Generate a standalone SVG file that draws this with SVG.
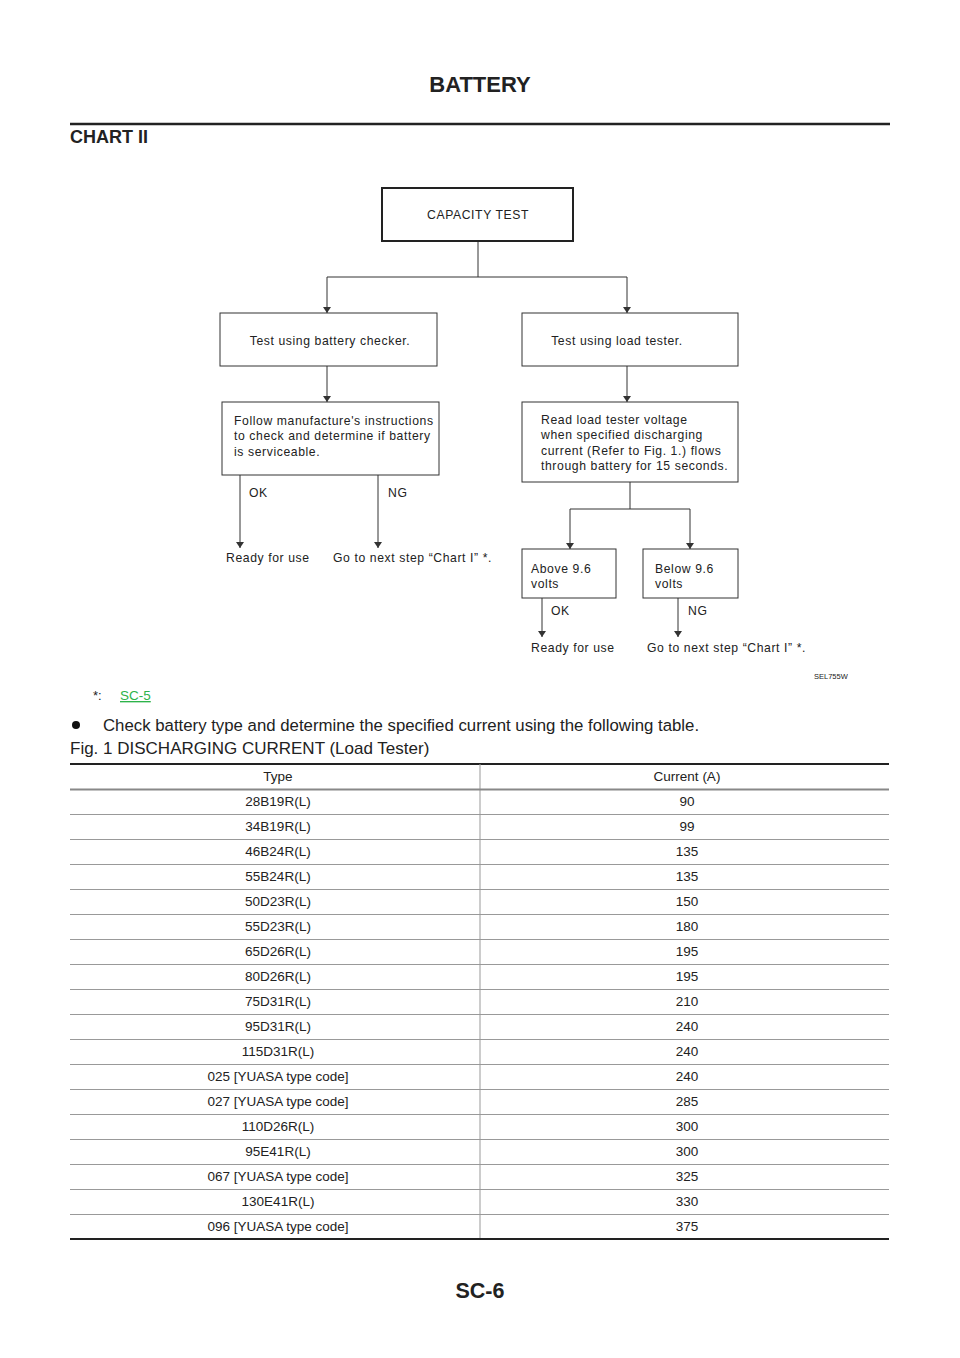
<svg xmlns="http://www.w3.org/2000/svg" width="960" height="1358" viewBox="0 0 960 1358">
<defs>
<marker id="ah" viewBox="0 0 6 10" refX="6" refY="5" markerWidth="6" markerHeight="10" orient="auto" markerUnits="userSpaceOnUse"><path d="M0,1 L6,5 L0,9 z" fill="#333"/></marker>
<style>
text{font-family:"Liberation Sans",Arial,sans-serif;fill:#222}
.fc{font-size:12.2px;letter-spacing:0.6px}
.box{fill:#fff;stroke:#333;stroke-width:1}
.cn{fill:none;stroke:#333;stroke-width:1}
.tb{font-size:13.5px;text-anchor:middle}
.rl{stroke:#999;stroke-width:1.2}
</style>
</defs>
<rect width="960" height="1358" fill="#fff"/>
<text x="480" y="92" font-size="22" font-weight="bold" text-anchor="middle">BATTERY</text>
<line x1="70" y1="124" x2="890" y2="124" stroke="#222" stroke-width="2.5"/>
<text x="70" y="143" font-size="18" font-weight="bold">CHART II</text>

<g id="connectors">
<path class="cn" d="M478,241 V277 M327,277 H627"/>
<path class="cn" d="M327,277 V313" marker-end="url(#ah)"/>
<path class="cn" d="M627,277 V313" marker-end="url(#ah)"/>
<path class="cn" d="M327,366 V402" marker-end="url(#ah)"/>
<path class="cn" d="M627,366 V402" marker-end="url(#ah)"/>
<path class="cn" d="M240,475 V548" marker-end="url(#ah)"/>
<path class="cn" d="M378,475 V548" marker-end="url(#ah)"/>
<path class="cn" d="M630,482 V509 M570,509 H690"/>
<path class="cn" d="M570,509 V549" marker-end="url(#ah)"/>
<path class="cn" d="M690,509 V549" marker-end="url(#ah)"/>
<path class="cn" d="M542,598 V637" marker-end="url(#ah)"/>
<path class="cn" d="M678,598 V637" marker-end="url(#ah)"/>
<text class="fc" x="249" y="497">OK</text>
<text class="fc" x="388" y="497">NG</text>
<text class="fc" x="551" y="615">OK</text>
<text class="fc" x="688" y="615">NG</text>
</g>

<g id="capacity"><rect x="382" y="188" width="191" height="53" fill="#fff" stroke="#222" stroke-width="2"/><text class="fc" x="478" y="219" text-anchor="middle">CAPACITY TEST</text></g>
<g id="checker"><rect class="box" x="220" y="313" width="217" height="53"/><text class="fc" x="330" y="345" text-anchor="middle">Test using battery checker.</text></g>
<g id="loadtester"><rect class="box" x="522" y="313" width="216" height="53"/><text class="fc" x="617" y="345" text-anchor="middle">Test using load tester.</text></g>
<g id="follow"><rect class="box" x="222" y="402" width="217" height="73"/><text class="fc" x="234" y="425">Follow manufacture's instructions</text><text class="fc" x="234" y="440">to check and determine if battery</text><text class="fc" x="234" y="456">is serviceable.</text></g>
<g id="read"><rect class="box" x="522" y="402" width="216" height="80"/><text class="fc" x="541" y="424">Read load tester voltage</text><text class="fc" x="541" y="439">when specified discharging</text><text class="fc" x="541" y="455">current (Refer to Fig. 1.) flows</text><text class="fc" x="541" y="470">through battery for 15 seconds.</text></g>
<g id="above"><rect class="box" x="522" y="549" width="94" height="49"/><text class="fc" x="531" y="573">Above 9.6</text><text class="fc" x="531" y="588">volts</text></g>
<g id="below"><rect class="box" x="643" y="549" width="95" height="49"/><text class="fc" x="655" y="573">Below 9.6</text><text class="fc" x="655" y="588">volts</text></g>
<g id="ready1"><text class="fc" x="226" y="562">Ready for use</text></g>
<g id="next1"><text class="fc" x="333" y="562">Go to next step “Chart I” *.</text></g>
<g id="ready2"><text class="fc" x="531" y="652">Ready for use</text></g>
<g id="next2"><text class="fc" x="647" y="652">Go to next step “Chart I” *.</text></g>
<text x="814" y="679" font-size="7.5">SEL755W</text>

<text x="93" y="700" font-size="13">*:</text>
<text x="120" y="700" font-size="13.5" fill="#2db34a" style="fill:#2db34a" text-decoration="underline">SC-5</text>
<circle cx="76" cy="725" r="4" fill="#111"/>
<text x="103" y="731" font-size="16.8">Check battery type and determine the specified current using the following table.</text>
<text x="70" y="754" font-size="17">Fig. 1 DISCHARGING CURRENT (Load Tester)</text>

<g id="table">
<line x1="70" y1="764" x2="889" y2="764" stroke="#222" stroke-width="2"/>
<line x1="480" y1="764" x2="480" y2="1239" stroke="#999" stroke-width="1"/>
<g class="rl">
<line x1="70" y1="789.5" x2="889" y2="789.5" stroke="#888" stroke-width="1.8"/>
<line x1="70" y1="814.5" x2="889" y2="814.5"/><line x1="70" y1="839.5" x2="889" y2="839.5"/><line x1="70" y1="864.5" x2="889" y2="864.5"/><line x1="70" y1="889.5" x2="889" y2="889.5"/><line x1="70" y1="914.5" x2="889" y2="914.5"/><line x1="70" y1="939.5" x2="889" y2="939.5"/><line x1="70" y1="964.5" x2="889" y2="964.5"/><line x1="70" y1="989.5" x2="889" y2="989.5"/><line x1="70" y1="1014.5" x2="889" y2="1014.5"/><line x1="70" y1="1039.5" x2="889" y2="1039.5"/><line x1="70" y1="1064.5" x2="889" y2="1064.5"/><line x1="70" y1="1089.5" x2="889" y2="1089.5"/><line x1="70" y1="1114.5" x2="889" y2="1114.5"/><line x1="70" y1="1139.5" x2="889" y2="1139.5"/><line x1="70" y1="1164.5" x2="889" y2="1164.5"/><line x1="70" y1="1189.5" x2="889" y2="1189.5"/><line x1="70" y1="1214.5" x2="889" y2="1214.5"/>
</g>
<line x1="70" y1="1239" x2="889" y2="1239" stroke="#222" stroke-width="2"/>
<text class="tb" x="278" y="781">Type</text><text class="tb" x="687" y="781">Current (A)</text>
<text class="tb" x="278" y="806">28B19R(L)</text><text class="tb" x="687" y="806">90</text>
<text class="tb" x="278" y="831">34B19R(L)</text><text class="tb" x="687" y="831">99</text>
<text class="tb" x="278" y="856">46B24R(L)</text><text class="tb" x="687" y="856">135</text>
<text class="tb" x="278" y="881">55B24R(L)</text><text class="tb" x="687" y="881">135</text>
<text class="tb" x="278" y="906">50D23R(L)</text><text class="tb" x="687" y="906">150</text>
<text class="tb" x="278" y="931">55D23R(L)</text><text class="tb" x="687" y="931">180</text>
<text class="tb" x="278" y="956">65D26R(L)</text><text class="tb" x="687" y="956">195</text>
<text class="tb" x="278" y="981">80D26R(L)</text><text class="tb" x="687" y="981">195</text>
<text class="tb" x="278" y="1006">75D31R(L)</text><text class="tb" x="687" y="1006">210</text>
<text class="tb" x="278" y="1031">95D31R(L)</text><text class="tb" x="687" y="1031">240</text>
<text class="tb" x="278" y="1056">115D31R(L)</text><text class="tb" x="687" y="1056">240</text>
<text class="tb" x="278" y="1081">025 [YUASA type code]</text><text class="tb" x="687" y="1081">240</text>
<text class="tb" x="278" y="1106">027 [YUASA type code]</text><text class="tb" x="687" y="1106">285</text>
<text class="tb" x="278" y="1131">110D26R(L)</text><text class="tb" x="687" y="1131">300</text>
<text class="tb" x="278" y="1156">95E41R(L)</text><text class="tb" x="687" y="1156">300</text>
<text class="tb" x="278" y="1181">067 [YUASA type code]</text><text class="tb" x="687" y="1181">325</text>
<text class="tb" x="278" y="1206">130E41R(L)</text><text class="tb" x="687" y="1206">330</text>
<text class="tb" x="278" y="1231">096 [YUASA type code]</text><text class="tb" x="687" y="1231">375</text>
</g>
<text x="480" y="1298" font-size="21.5" font-weight="bold" text-anchor="middle">SC-6</text>
</svg>
